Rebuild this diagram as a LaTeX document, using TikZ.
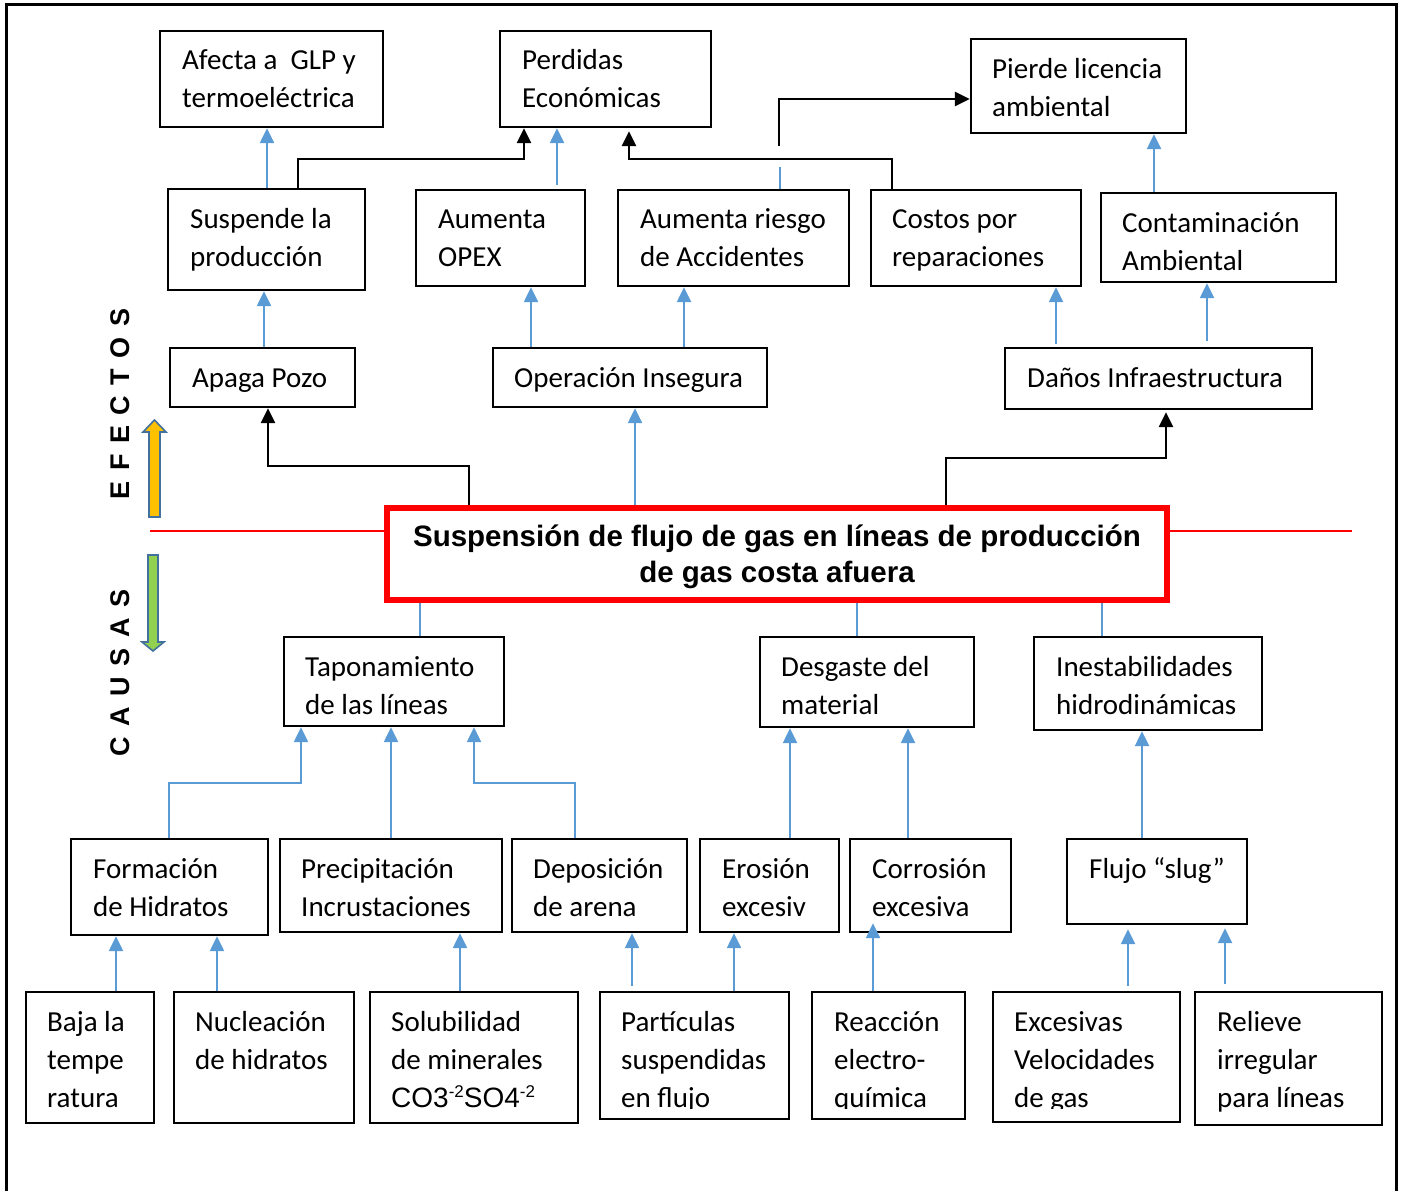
\documentclass[tikz,border=0pt]{standalone}
\usepackage{fontspec}
\setmainfont{Carlito}
\newfontfamily\arialf{Liberation Sans}
\usetikzlibrary{arrows.meta,fit}

\definecolor{bl}{HTML}{5B9BD5}
\definecolor{yel}{HTML}{FFC000}
\definecolor{grn}{HTML}{92D050}
\definecolor{edg}{HTML}{41719C}

% left-aligned stack of lines whose baseline is the first line
\newcommand{\ml}[1]{\vtop{\halign{##\hfil\cr#1\crcr}}}
% centred stack of lines
\newcommand{\mc}[1]{\vtop{\halign{\hfil##\hfil\cr#1\crcr}}}
\newcommand{\spc}{\hspace{10.5pt}}
\newcommand{\supx}[1]{\raisebox{10pt}{\fontsize{17}{17}\selectfont #1}}

\begin{document}
\begin{tikzpicture}[x=1pt,y=-1pt,
  box/.style={draw=black, line width=2.4pt, inner sep=0pt},
  txt/.style={anchor=base west, inner sep=0pt, font=\fontsize{29}{38.4}\selectfont},
  bar/.style={draw=bl, line width=2.4pt, -{Triangle[width=14pt,length=15pt]}},
  bline/.style={draw=bl, line width=2.4pt},
  kar/.style={draw=black, line width=2.6pt, -{Triangle[width=14pt,length=15pt]}},
  side/.style={rotate=90, inner sep=0pt, font=\arialf\bfseries\fontsize{27}{30}\selectfont}]
\useasboundingbox (0,0) rectangle (1402,1191);

% outer frame
\draw[line width=3pt] (6,1191) -- (6,4) -- (1396,4) -- (1396,1191);

% divider between effects and causes
\draw[red, line width=1.2pt] (150,531) -- (1352,531);

% ---------- effects ----------
\node[box, fit={(160,31) (383,127)}] (afecta) {};
\node[txt] (afectaT) at (182,69) {\ml{Afecta a\ \ GLP y\cr termoeléctrica}};
\node[box, fit={(500,31) (711,127)}] (perdidas) {};
\node[txt] (perdidasT) at (522,69) {\ml{Perdidas\cr Económicas}};
\node[box, fit={(971,39) (1186,133)}] (pierde) {};
\node[txt] (pierdeT) at (992,78) {\ml{Pierde licencia\cr ambiental}};

\node[box, fit={(168,189) (365,290)}] (suspende) {};
\node[txt] (suspendeT) at (190,228) {\ml{Suspende la\cr producción}};
\node[box, fit={(416,190) (585,286)}] (opex) {};
\node[txt] (opexT) at (438,228) {\ml{Aumenta\cr OPEX}};
\node[box, fit={(618,190) (849,286)}] (riesgo) {};
\node[txt] (riesgoT) at (640,228) {\ml{Aumenta riesgo\cr de Accidentes}};
\node[box, fit={(871,190) (1081,286)}] (costos) {};
\node[txt] (costosT) at (892,228) {\ml{Costos por\cr reparaciones}};
\node[box, fit={(1101,193) (1336,282)}] (contam) {};
\node[txt] (contamT) at (1122,232) {\ml{Contaminación\cr Ambiental}};

\node[box, fit={(170,348) (355,407)}] (apaga) {};
\node[txt] (apagaT) at (192,387) {Apaga Pozo};
\node[box, fit={(493,348) (767,407)}] (operacion) {};
\node[txt] (operacionT) at (514,387) {Operación Insegura};
\node[box, fit={(1005,348) (1312,409)}] (danos) {};
\node[txt] (danosT) at (1027,387) {Daños Infraestructura};

% ---------- central problem ----------
\node[draw=red, line width=5.5pt, fill=white, inner sep=0pt, fit={(387,508) (1167,600)}] (main) {};
\node[anchor=base, inner sep=0pt, font=\arialf\bfseries\fontsize{29.5}{36}\selectfont] (mainT) at (777,546)
  {\mc{Suspensión de flujo de gas en líneas de producción\cr de gas costa afuera}};

% ---------- causes ----------
\node[box, fit={(284,637) (504,726)}] (tapon) {};
\node[txt] (taponT) at (305,676) {\ml{Taponamiento\cr de las líneas}};
\node[box, fit={(760,637) (974,727)}] (desgaste) {};
\node[txt] (desgasteT) at (781,676) {\ml{Desgaste del\cr material}};
\node[box, fit={(1034,637) (1262,730)}] (inest) {};
\node[txt] (inestT) at (1056,676) {\ml{Inestabilidades\cr hidrodinámicas}};

\node[box, fit={(71,839) (268,935)}] (formacion) {};
\node[txt] (formacionT) at (93,878) {\ml{Formación\cr de Hidratos}};
\node[box, fit={(280,839) (502,932)}] (precip) {};
\node[txt] (precipT) at (301,878) {\ml{Precipitación\cr Incrustaciones}};
\node[box, fit={(512,839) (687,932)}] (depos) {};
\node[txt] (deposT) at (533,878) {\ml{Deposición\cr de arena}};
\node[box, fit={(700,839) (839,932)}] (erosion) {};
\node[txt] (erosionT) at (722,878) {\ml{Erosión\cr excesiv}};
\node[box, fit={(850,839) (1011,932)}] (corrosion) {};
\node[txt] (corrosionT) at (872,878) {\ml{Corrosión\cr excesiva}};
\node[box, fit={(1067,839) (1247,924)}] (flujo) {};
\node[txt] (flujoT) at (1089,878) {Flujo “slug”};

\node[box, fit={(26,992) (154,1123)}] (baja) {};
\node[txt] (bajaT) at (47,1031) {\ml{Baja la\cr tempe\cr ratura}};
\node[box, fit={(174,992) (354,1123)}] (nucle) {};
\node[txt] (nucleT) at (195,1031) {\ml{Nucleación\cr de hidratos}};
\node[box, fit={(370,992) (578,1123)}] (solub) {};
\node[txt] (solubT) at (391,1031) {\ml{Solubilidad\cr de minerales\cr {\arialf\fontsize{28}{28}\selectfont CO3\supx{-2}SO4\supx{-2}}}};
\node[box, fit={(600,992) (789,1119)}] (particulas) {};
\node[box, fit={(812,992) (965,1119)}] (reaccion) {};
\node[box, fit={(993,992) (1180,1122)}] (excesivas) {};
\node[box, fit={(1195,992) (1382,1125)}] (relieve) {};
\node[txt] (relieveT) at (1217,1031) {\ml{Relieve\cr irregular\cr para líneas}};
% the last line of these three is cut off at its baseline
\begin{scope}
  \clip (600,995) rectangle (789,1108);
  \node[txt] (particulasT) at (621,1031) {\ml{Partículas\cr suspendidas\cr en flujo}};
\end{scope}
\begin{scope}
  \clip (812,995) rectangle (965,1108);
  \node[txt] (reaccionT) at (834,1031) {\ml{Reacción\cr electro-\cr química}};
\end{scope}
\begin{scope}
  \clip (993,995) rectangle (1180,1108);
  \node[txt] (excesivasT) at (1014,1031) {\ml{Excesivas\cr Velocidades\cr de gas}};
\end{scope}

% ---------- side labels and direction arrows ----------
\node[side] (efectos) at (120,404) {E\spc F\spc E\spc C\spc T\spc O\spc S};
\node[side] (causas) at (120,673) {C\spc A\spc U\spc S\spc A\spc S};
\draw[edg, line width=1.6pt, fill=yel]
  (149,517) -- (149,432) -- (143,432) -- (154.5,420) -- (166,432) -- (160,432) -- (160,517) -- cycle;
\draw[edg, line width=1.6pt, fill=grn]
  (148,555) -- (148,642) -- (142,642) -- (153,651) -- (164,642) -- (158,642) -- (158,555) -- cycle;

% ---------- connectors: effects ----------
\coordinate (riskgap) at (779,146);
\coordinate (riskstub) at (780,167);
\draw[bar] (suspende.north -| 267,0) -- (afecta.south -| 267,0);
\draw[bar] (apaga.north -| 264,0) -- (suspende.south -| 264,0);
\draw[bar] (opex.north -| 557,0) ++(0,-4) -- (perdidas.south -| 557,0);
\draw[bar] (operacion.north -| 531,0) -- (opex.south -| 531,0);
\draw[bar] (operacion.north -| 684,0) -- (riesgo.south -| 684,0);
\draw[bar] (danos.north -| 1056,0) ++(0,-3) -- (costos.south -| 1056,0);
\draw[bar] (danos.north -| 1207,0) ++(0,-6) -- (contam.south -| 1207,0);
\draw[bar] (contam.north -| 1154,0) -- (pierde.south -| 1154,0);
\draw[bline] (riesgo.north -| 780,0) -- (riskstub);
\draw[kar] (suspende.north -| 298,0) -- (298,159) -- (524,159) -- (perdidas.south -| 524,0);
\draw[kar, shorten >=3pt] (costos.north -| 892,0) -- (892,159) -- (629,159) -- (perdidas.south -| 629,0);
\draw[kar] (riskgap) -- (779,99) -- (pierde.west |- 0,99);
\draw[kar] (main.north -| 469,0) -- (469,466) -- (268,466) -- (apaga.south -| 268,0);
\draw[kar, shorten >=2pt] (main.north -| 946,0) -- (946,458) -- (1166,458) -- (danos.south -| 1166,0);
\draw[bar] (main.north -| 635,0) -- (operacion.south -| 635,0);

% ---------- connectors: causes ----------
\draw[bline] (main.south -| 420,0) -- (tapon.north -| 420,0);
\draw[bline] (main.south -| 857,0) -- (desgaste.north -| 857,0) ++(0,-5);
\draw[bline] (main.south -| 1102,0) -- (inest.north -| 1102,0) ++(0,-5);
\draw[bar] (formacion.north -| 169,0) -- (169,783) -- (301,783) -- (tapon.south -| 301,0);
\draw[bar] (precip.north -| 391,0) -- (tapon.south -| 391,0);
\draw[bar] (depos.north -| 575,0) -- (575,783) -- (474,783) -- (tapon.south -| 474,0);
\draw[bar] (erosion.north -| 790,0) -- (desgaste.south -| 790,0);
\draw[bar] (corrosion.north -| 908,0) -- (desgaste.south -| 908,0);
\draw[bar] (flujo.north -| 1142,0) -- (inest.south -| 1142,0);
\draw[bar] (baja.north -| 116,0) -- (formacion.south -| 116,0);
\draw[bar] (nucle.north -| 217,0) -- (formacion.south -| 217,0);
\draw[bar] (solub.north -| 460,0) -- (precip.south -| 460,0);
\draw[bar] (particulas.north -| 632,0) ++(0,-5) -- (depos.south -| 632,0);
\draw[bar] (particulas.north -| 734,0) -- (erosion.south -| 734,0);
\draw[bar, shorten >=-10pt] (reaccion.north -| 873,0) -- (corrosion.south -| 873,0);
\draw[bar, shorten >=4pt] (excesivas.north -| 1128,0) ++(0,-5) -- (flujo.south -| 1128,0);
\draw[bar, shorten >=3pt] (relieve.north -| 1225,0) ++(0,-7) -- (flujo.south -| 1225,0);
\end{tikzpicture}
\end{document}
